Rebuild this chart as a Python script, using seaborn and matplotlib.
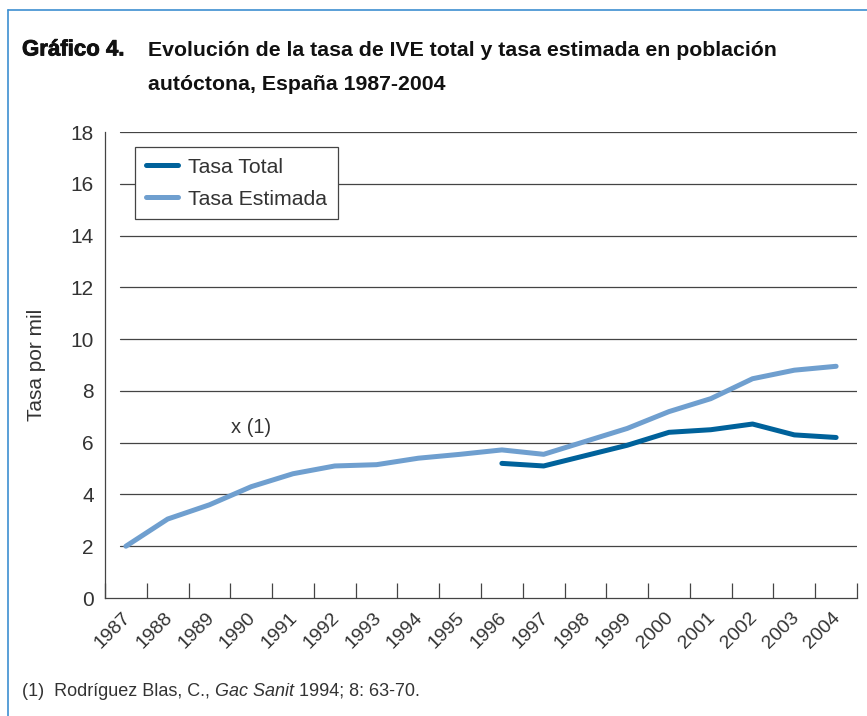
import numpy as np
import pandas as pd
import matplotlib
matplotlib.use("Agg")
import matplotlib.pyplot as plt
import matplotlib.transforms as mtransforms
import matplotlib.patheffects as pe
from matplotlib.lines import Line2D
import seaborn as sns

# Data
YEARS = [str(y) for y in range(1987, 2005)]
TASA_ESTIMADA = [2.0, 3.05, 3.6, 4.3, 4.8, 5.1, 5.15, 5.4, 5.55, 5.72, 5.55, 6.05,
                 6.55, 7.2, 7.7, 8.47, 8.8, 8.95]
TASA_TOTAL = [np.nan] * 9 + [5.2, 5.1, 5.5, 5.9, 6.4, 6.5, 6.72, 6.3, 6.2]
SERIES = ["Tasa Total", "Tasa Estimada"]
COLORS = {"Tasa Total": "#00629b", "Tasa Estimada": "#6f9fcf"}
YTICKS = list(range(0, 19, 2))

df = pd.concat([
    pd.DataFrame({"idx": range(len(YEARS)), "tasa": TASA_TOTAL, "serie": "Tasa Total"}),
    pd.DataFrame({"idx": range(len(YEARS)), "tasa": TASA_ESTIMADA, "serie": "Tasa Estimada"}),
], ignore_index=True)

sns.set_style("white")
plt.rcParams["font.family"] = ["Liberation Sans", "DejaVu Sans"]
TXT = "#333333"

fig = plt.figure(figsize=(8.67, 7.16), dpi=100)
ax = fig.add_axes([105 / 867, 118 / 716, 752 / 867, 466 / 716])

# gridlines (start slightly right of the y axis)
for y in YTICKS[1:]:
    ax.axhline(y, xmin=0.02, xmax=1, color="#444444", lw=0.9, zorder=0)

sns.lineplot(data=df, x="idx", y="tasa", hue="serie", hue_order=SERIES,
             palette=COLORS, linewidth=3.6, ax=ax, legend=False,
             solid_capstyle="round")

ax.set_xlim(-0.5, len(YEARS) - 0.5)
ax.set_ylim(0, 18)
ax.set_yticks(YTICKS)
ax.set_yticklabels([str(v) for v in YTICKS], fontsize=15, color=TXT)
ax.set_xticks(range(len(YEARS)))
ax.set_xticklabels(YEARS, rotation=45, ha="right", rotation_mode="anchor",
                   fontsize=14, color=TXT)
ax.set_xticks(np.arange(-0.5, len(YEARS)), minor=True)
ax.tick_params(axis="x", which="major", length=0, pad=8)
ax.tick_params(axis="x", which="minor", direction="in", length=11, width=0.9,
               color="#444444", bottom=True)
ax.tick_params(axis="y", length=0, pad=8)
offset = mtransforms.ScaledTranslation(-4 / 100, 0, fig.dpi_scale_trans)
for lab in ax.get_xticklabels():
    lab.set_transform(lab.get_transform() + offset)

for s in ["top", "right"]:
    ax.spines[s].set_visible(False)
for s in ["left", "bottom"]:
    ax.spines[s].set_color("#444444")
    ax.spines[s].set_linewidth(0.9)

ax.set_xlabel("")
ax.set_ylabel("Tasa por mil", fontsize=15, color=TXT, labelpad=18)

ax.text(3.0, 6.2, "x (1)", fontsize=14.5, color=TXT, ha="center", va="bottom")

handles = [Line2D([0], [0], color=COLORS[s], lw=3.6, solid_capstyle="round") for s in SERIES]
leg = ax.legend(handles, SERIES, loc="upper left", bbox_to_anchor=(0.04, 0.968),
                borderaxespad=0, fontsize=15.3, frameon=True, fancybox=False,
                framealpha=1, edgecolor="#444444", handlelength=1.5,
                borderpad=0.5, labelspacing=0.62, handletextpad=0.5)
leg.get_frame().set_linewidth(0.9)
for t in leg.get_texts():
    t.set_color(TXT)

# title
fig.text(22 / 867, 1 - 50 / 716, "Gráfico 4.", fontsize=16, fontweight="bold",
         color="#111111", va="center",
         path_effects=[pe.withStroke(linewidth=0.6, foreground="#111111")])
fig.text(148 / 867, 1 - 50 / 716, "Evolución de la tasa de IVE total y tasa estimada en población",
         fontsize=15.3, fontweight="bold", color="#111111", va="center")
fig.text(148 / 867, 1 - 85 / 716, "autóctona, España 1987-2004",
         fontsize=15.3, fontweight="bold", color="#111111", va="center")

# footnote with italic part
t1 = fig.text(22 / 867, 1 - 691 / 716, "(1)  Rodríguez Blas, C., ", fontsize=13,
              color=TXT, va="center")
t2 = ax.annotate("Gac Sanit", xy=(1, 0), xycoords=t1, va="bottom", ha="left",
                 fontsize=13, color=TXT, style="italic", annotation_clip=False)
ax.annotate(" 1994; 8: 63-70.", xy=(1, 0), xycoords=t2, va="bottom", ha="left",
            fontsize=13, color=TXT, annotation_clip=False)

# blue frame
frame_c = "#3d8fd1"
fig.add_artist(Line2D([8 / 867, 1.0], [1 - 10 / 716, 1 - 10 / 716], color=frame_c, lw=1.2,
                      transform=fig.transFigure))
fig.add_artist(Line2D([8 / 867, 8 / 867], [0, 1 - 10 / 716], color=frame_c, lw=1.2,
                      transform=fig.transFigure))

fig.savefig("out.png", dpi=100)
